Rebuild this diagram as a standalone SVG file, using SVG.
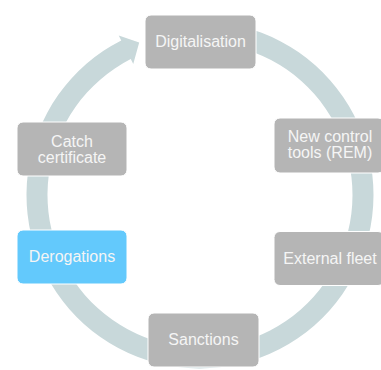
<svg xmlns="http://www.w3.org/2000/svg" width="381" height="370" viewBox="0 0 381 370">
  <style>
    .box { fill: #b5b5b5; stroke: #ffffff; stroke-width: 1; }
    .blue { fill: #63c9fc; }
    .lbl { font-family: "Liberation Sans", Arial, sans-serif; font-size: 16px; fill: #f5f5f5; text-anchor: middle; }
    .ring { fill: #c8d8da; }
  </style>
  <rect width="381" height="370" fill="#ffffff"/>
  <g id="connectors">
    <path class="ring" d="M200,21.5 A173.5,173.5 0 1 1 121.23,40.41 L118.73,35.51 L139.2,42.5 L133.26,64.02 L130.76,59.12 A152.5,152.5 0 1 0 200,42.5 Z"/>
  </g>
  <g id="node-digitalisation">
    <rect class="box" x="145" y="15" width="111" height="54" rx="6"/>
    <text class="lbl" x="200.5" y="47">Digitalisation</text>
  </g>
  <g id="node-new-control-tools">
    <rect class="box" x="274" y="118" width="110" height="55" rx="6"/>
    <text class="lbl" x="330" y="141.7">New control</text>
    <text class="lbl" x="330" y="158.2">tools (REM)</text>
  </g>
  <g id="node-external-fleet">
    <rect class="box" x="274" y="231.5" width="110" height="54" rx="6"/>
    <text class="lbl" x="330" y="264">External fleet</text>
  </g>
  <g id="node-sanctions">
    <rect class="box" x="148" y="313" width="111" height="54" rx="6"/>
    <text class="lbl" x="203.5" y="345">Sanctions</text>
  </g>
  <g id="node-derogations">
    <rect class="box blue" x="17" y="230" width="110" height="54" rx="6"/>
    <text class="lbl" x="72" y="262">Derogations</text>
  </g>
  <g id="node-catch-certificate">
    <rect class="box" x="17" y="122" width="110" height="54" rx="6"/>
    <text class="lbl" x="72" y="146.5">Catch</text>
    <text class="lbl" x="72" y="162.5">certificate</text>
  </g>
</svg>
